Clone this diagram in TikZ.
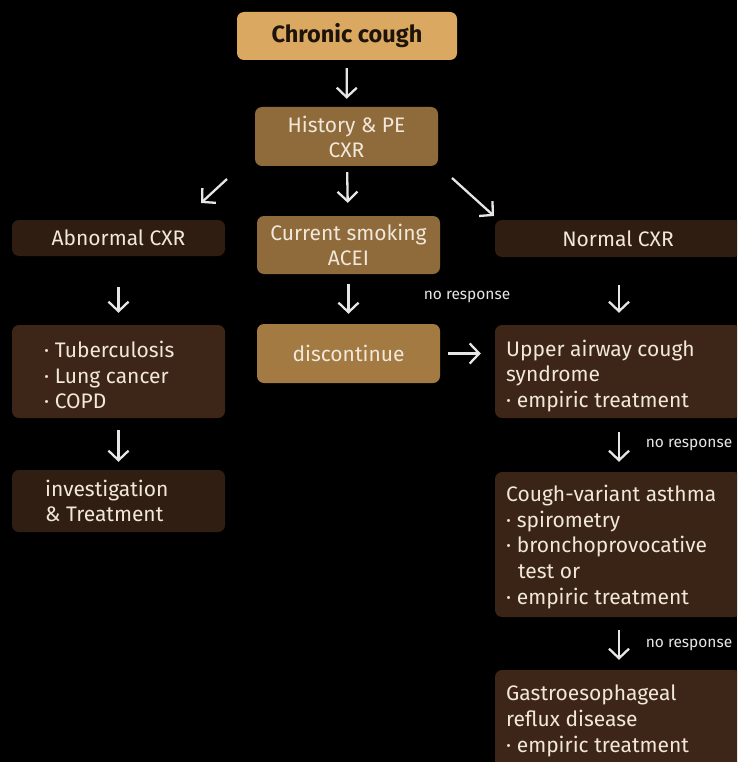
\documentclass[tikz,border=0pt]{standalone}
\usepackage{fontspec}
\setmainfont{Fira Sans}
\usetikzlibrary{arrows.meta}
\definecolor{bgc}{HTML}{000000}
\definecolor{tanlight}{HTML}{DAA860}
\definecolor{tanmid}{HTML}{8F6B3C}
\definecolor{tandisc}{HTML}{A37A42}
\definecolor{brdark}{HTML}{2F1D12}
\definecolor{brbox}{HTML}{3D2617}
\definecolor{txt}{HTML}{F1E8DA}
\definecolor{arr}{HTML}{E6E6E6}
\begin{document}
\begin{tikzpicture}[x=1pt,y=-1pt,
  box/.style={rounded corners=7pt, inner sep=0pt, text=txt,
    font=\fontsize{21}{25}\selectfont},
  ctr/.style={box, align=center},
  tx/.style={anchor=west, text=txt, align=left, inner sep=0pt,
    font=\fontsize{21}{25.8}\selectfont},
  flow/.style={draw=arr, line width=2.3pt,
    -{Straight Barb[length=9.5pt,width=20pt,line width=2.3pt]}},
  note/.style={text=arr, font=\fontsize{15.5}{17}\selectfont, inner sep=0pt}]
\useasboundingbox (0,0) rectangle (737,762);
\fill[bgc] (0,0) rectangle (737,762);
\begin{scope}
\clip (0,0) rectangle (737,762);
% central column
\node[ctr, fill=tanlight, minimum width=220pt, minimum height=48pt, text=black!85!brown,
  font=\fontsize{23.5}{25}\selectfont\bfseries] (cc) at (347,36) {Chronic cough};
\node[ctr, fill=tanmid, minimum width=183pt, minimum height=59pt] (hist) at (346.5,136.5) {History \& PE\\CXR};
\node[ctr, fill=tanmid, minimum width=183pt, minimum height=58pt] (smoke) at (348.5,245) {Current smoking\\ACEI};
\node[ctr, fill=tandisc, minimum width=183pt, minimum height=59pt] (disc) at (348.5,353.5) {discontinue};
% left column
\node[ctr, fill=brdark, minimum width=213pt, minimum height=36pt] (abn) at (118.5,238) {Abnormal CXR};
\node[box, fill=brbox, minimum width=213pt, minimum height=93pt] (tub) at (118.5,371.5) {};
\node[tx] (tubtx) at (44,375) {· Tuberculosis\\· Lung cancer\\· COPD};
\node[box, fill=brdark!85!brbox, minimum width=213pt, minimum height=62pt] (inv) at (118.5,501) {};
\node[tx] (invtx) at (45,501) {investigation\\\& Treatment};
% right column
\node[ctr, fill=brdark, minimum width=246pt, minimum height=37pt] (norm) at (618,238.5) {Normal CXR};
\node[box, fill=brbox, minimum width=246pt, minimum height=93pt] (upper) at (618,371.5) {};
\node[tx] (uppertx) at (506,376) {Upper airway cough\\syndrome\\· empiric treatment};
\node[box, fill=brbox!95!black, minimum width=246pt, minimum height=145pt] (cva) at (618,544.5) {};
\node[tx] (cvatx) at (506,547) {Cough-variant asthma\\· spirometry\\· bronchoprovocative\\\hspace*{12pt}test or\\· empiric treatment};
\node[box, fill=brbox, minimum width=246pt, minimum height=100pt] (gerd) at (618,720) {};
\node[tx] (gerdtx) at (506,721) {Gastroesophageal\\reflux disease\\· empiric treatment};
% connectors
\draw[flow, shorten <=8pt, shorten >=8pt] (cc) -- (hist);
\draw[flow, shorten <=6pt, shorten >=13pt] (hist) -- (smoke);
\draw[flow, shorten <=10pt, shorten >=10pt] (smoke) -- (disc);
\coordinate (dl0) at (227,179);
\coordinate (dl1) at (201,203);
\coordinate (dr0) at (452,178);
\coordinate (dr1) at (494,216);
\draw[flow] (dl0) -- (dl1);
\draw[flow] (dr0) -- (dr1);
\draw[flow, shorten <=31pt, shorten >=12pt] (abn) -- (tub);
\draw[flow, shorten <=12pt, shorten >=8pt] (tub) -- (inv);
\draw[flow, shorten <=8pt, shorten >=14pt] (disc.east) -- (upper.west |- disc.east);
\draw[flow, shorten <=28pt, shorten >=12pt] ([xshift=1pt]norm.south) -- ([xshift=1pt]upper.north);
\draw[flow, shorten <=14pt, shorten >=10pt] ([xshift=1pt]upper.south) -- ([xshift=1pt]cva.north);
\draw[flow, shorten <=13pt, shorten >=10pt] ([xshift=1pt]cva.south) -- ([xshift=1pt]gerd.north);
\node[note] (nr1) at (467,297) {no response};
\node[note] (nr2) at (689,445) {no response};
\node[note] (nr3) at (689,645) {no response};
\end{scope}
\end{tikzpicture}
\end{document}
